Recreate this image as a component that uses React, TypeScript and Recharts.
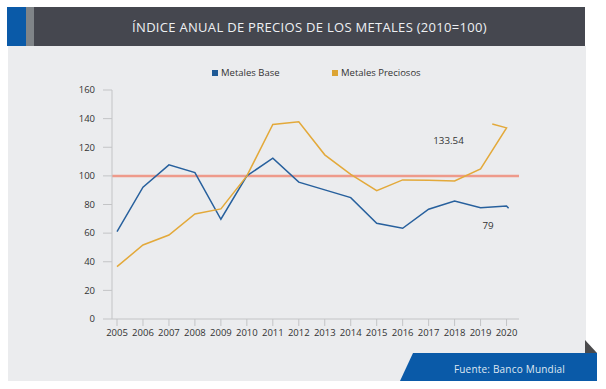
import { LineChart, Line, XAxis, YAxis, ReferenceLine } from 'recharts'

const years = [2005, 2006, 2007, 2008, 2009, 2010, 2011, 2012, 2013, 2014, 2015, 2016, 2017, 2018, 2019, 2020]
const baseValues = [61.0, 92.1, 107.7, 102.3, 69.7, 100, 112.4, 95.6, 90.2, 84.8, 66.9, 63.4, 76.7, 82.5, 77.8, 79]
const preciousValues = [36.6, 51.7, 58.7, 73.4, 76.9, 100, 135.9, 137.8, 114.7, 101, 89.7, 97.2, 97.0, 96.5, 104.9, 133.54]
// trailing points of each series (the short hook after 2020)
const baseTail = { x: 2020.08, v: 77.4 }
const preciousTail = { x: 2019.45, v: 136.2 }
const yTicks = [0, 20, 40, 60, 80, 100, 120, 140, 160]

const seriesNames = ['Metales Base', 'Metales Preciosos']
const blue = '#27609d'
const gold = '#e3a93a'

const baseData = [...years.map((x, i) => ({ x, v: baseValues[i] })), baseTail]
const preciousData = [...years.map((x, i) => ({ x, v: preciousValues[i] })), preciousTail]

const font = '"Open Sans", sans-serif'
const textColor = '#333333'
const axisColor = '#c3c4c6'

function endLabel(dx: number, dy: number) {
  return (props: any) => {
    const { x, y, index, value } = props
    if (index !== years.length - 1) return null
    return (
      <text x={x + dx} y={y + dy} textAnchor='middle' dominantBaseline='central' fontSize={9.8} fill={textColor} fontFamily={font}>
        {value}
      </text>
    )
  }
}

export default function App() {
  return (
    <div style={{ position: 'absolute', left: 0, top: 0, width: 606, height: 389, background: '#ffffff', fontFamily: font }}>
      {/* title bar */}
      <div style={{ position: 'absolute', left: 7, top: 7, width: 19, height: 39, background: '#0a5aa8' }} />
      <div style={{ position: 'absolute', left: 26, top: 7, width: 8, height: 39, background: '#7f8488' }} />
      <div
        style={{
          position: 'absolute',
          left: 34,
          top: 7,
          width: 551,
          height: 39,
          background: '#45474f',
          color: '#eef0f3',
          fontSize: 13,
          letterSpacing: 0.3,
          lineHeight: '40px',
          textAlign: 'center',
        }}
      >
        ÍNDICE ANUAL DE PRECIOS DE LOS METALES (2010=100)
      </div>
      {/* panel */}
      <div style={{ position: 'absolute', left: 8, top: 46, width: 578, height: 335, background: '#ebecee' }} />

      {/* legend */}
      <div style={{ position: 'absolute', left: 212, top: 66, fontSize: 9.5, color: textColor, whiteSpace: 'nowrap', display: 'flex', alignItems: 'center' }}>
        <span style={{ display: 'inline-block', width: 6, height: 6, background: '#1f5a96', marginRight: 3 }} />
        <span style={{ width: 111 }}>{seriesNames[0]}</span>
        <span style={{ display: 'inline-block', width: 6, height: 6, background: '#dca433', marginRight: 3 }} />
        <span>{seriesNames[1]}</span>
      </div>

      <div style={{ position: 'absolute', left: 0, top: 0 }}>
        <LineChart width={606} height={389} margin={{ top: 90, right: 87, bottom: 40, left: 0 }}>
          <XAxis
            dataKey='x'
            type='number'
            domain={[2004.807, 2020.48]}
            ticks={years}
            interval={0}
            allowDataOverflow
            height={30}
            tickSize={7}
            tickMargin={3}
            stroke={axisColor}
            tick={{ fontSize: 9.5, fill: textColor, fontFamily: font }}
          />
          <YAxis
            type='number'
            domain={[0, 160]}
            ticks={yTicks}
            width={112}
            tickSize={9}
            tickMargin={8}
            stroke={axisColor}
            tick={{ fontSize: 9.5, fill: textColor, fontFamily: font }}
          />
          <ReferenceLine y={100} stroke='#ee9a8b' strokeWidth={2.5} />
          <Line
            data={baseData}
            dataKey='v'
            name={seriesNames[0]}
            type='linear'
            stroke={blue}
            strokeWidth={1.5}
            dot={false}
            isAnimationActive={false}
            label={endLabel(-18.5, 20)}
          />
          <Line
            data={preciousData}
            dataKey='v'
            name={seriesNames[1]}
            type='linear'
            stroke={gold}
            strokeWidth={1.5}
            dot={false}
            isAnimationActive={false}
            label={endLabel(-58, 12.6)}
          />
        </LineChart>
      </div>

      {/* footer */}
      <svg style={{ position: 'absolute', left: 0, top: 0 }} width={606} height={389}>
        <polygon points='585,340 597,353 585,353' fill='#4a4a4c' />
        <polygon points='400,381 413,353 597,353 597,381' fill='#0a5aa8' />
        <text x={509.5} y={369} textAnchor='middle' dominantBaseline='central' fontSize={10} letterSpacing={0.2} fill='#dfe8f2' fontFamily={font}>
          Fuente: Banco Mundial
        </text>
      </svg>
    </div>
  )
}
